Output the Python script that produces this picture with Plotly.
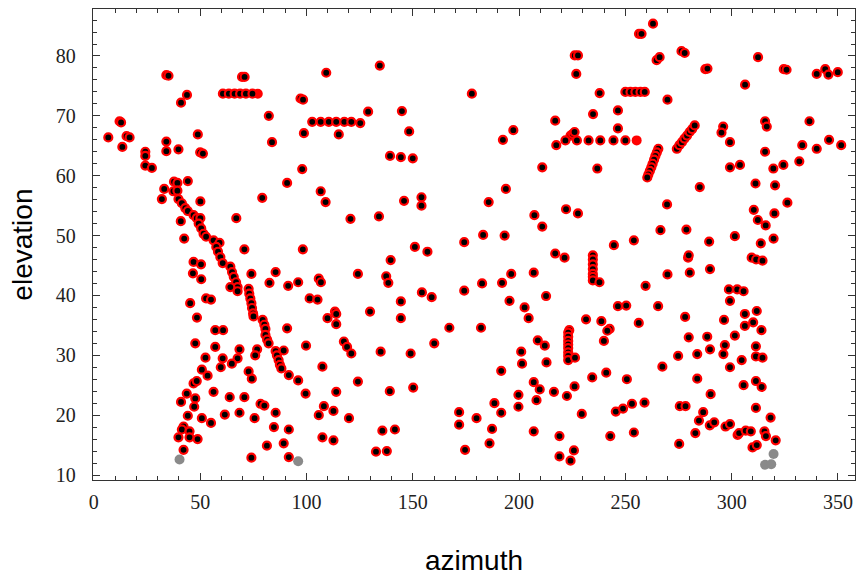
import plotly.graph_objects as go

# Main detections (black core, red halo)
azimuth = [
    6.8, 12.1, 12.8, 13.4, 15.4, 16.8, 24.2, 24.2, 24.2, 27.3, 34.1, 35.1, 34.1, 34.1, 39.8,
    41.0, 43.8, 48.9, 50.0, 51.3, 60.7, 63.5, 66.2, 68.8, 71.5, 74.6, 69.7, 70.9, 82.3, 83.8,
    109.3, 134.5, 97.2, 98.4, 102.7, 106.7, 110.5, 114.0, 117.8, 121.1, 125.3, 129.0, 144.9,
    98.8, 115.2, 148.3, 177.8, 139.3, 144.4, 150.0, 98.0,
    263.0, 256.4, 257.6, 226.2, 227.7, 226.9, 264.7, 266.1, 237.9, 250.0, 252.4, 254.7, 257.1,
    259.1, 269.8, 234.8, 246.5, 217.0, 197.3, 192.4, 246.5, 224.2, 225.3, 226.1, 217.5,
    221.8, 227.2, 232.7, 238.2, 244.4, 250.0,
    265.5, 264.8, 264.1, 263.5, 262.8, 262.2, 261.5, 260.8, 260.3, 210.9, 236.8,
    274.2, 275.4, 276.6, 277.8, 279.0, 280.2, 281.4, 282.6,
    276.4, 277.9, 287.6, 288.6, 312.4, 306.3, 324.5, 325.8, 340.0, 344.0, 345.5, 349.9,
    296.0, 295.2, 299.2, 315.7, 316.5, 315.7, 336.6, 333.2, 340.0, 345.8, 351.5,
    299.2, 303.9, 319.6, 324.3, 331.8,
    37.7, 39.3, 44.2, 33.1, 32.0,
    37.4, 39.3, 39.8, 41.4, 43.0, 44.2, 46.9, 48.4, 50.1, 49.3, 50.5, 51.6, 52.8, 56.3, 59.1,
    57.6, 58.4, 59.5, 60.6, 64.2, 65.0, 65.8, 66.9, 67.6, 67.6, 64.2, 72.8, 73.1, 73.6, 74.1,
    74.4, 74.9, 75.1, 79.4, 80.2, 80.7, 80.7, 81.5, 82.2,
    50.1, 40.9, 42.5, 46.9, 50.4, 46.6, 50.5, 45.3, 52.8, 55.1, 48.5, 67.0, 70.8, 79.2, 74.1,
    85.5, 82.6, 90.9, 91.4, 57.1, 60.8, 90.9,
    106.7, 109.0, 120.7, 134.1, 145.9, 154.1, 154.1, 98.3, 151.0, 156.9, 174.2, 183.1, 139.6,
    124.2, 137.5, 138.5, 96.1, 105.8, 106.8, 154.3, 158.9, 174.2, 182.6, 101.5, 105.2, 144.4,
    113.4, 114.0, 109.9, 114.0, 129.9, 144.4, 167.2, 182.1,
    193.8, 185.7, 207.2, 222.1, 227.7, 210.9, 193.2, 217.0, 221.4, 244.6, 254.0, 266.5, 269.6,
    234.7, 234.7, 234.7, 234.7, 234.7, 234.7, 234.7, 237.8,
    196.3, 206.9, 192.0, 269.8, 259.5, 212.7, 195.5, 202.6, 204.5, 246.5, 250.4, 265.4, 231.5,
    238.7, 256.3, 242.6, 223.6,
    285.0, 311.2, 320.4, 326.2, 310.4, 320.1, 312.3, 316.0, 278.7, 289.4, 301.5, 313.7, 319.7,
    279.5, 279.8, 309.4, 311.5, 314.5, 280.3, 289.8, 298.7, 302.6, 305.6, 299.2, 278.1, 296.4,
    306.2, 311.8, 306.2, 310.1, 314.0,
    47.7, 57.1, 68.5, 76.8, 75.9, 85.5, 89.3, 86.1, 86.9, 87.5, 88.2, 52.5, 60.6, 67.6, 64.9,
    50.8, 59.7, 53.5, 72.8, 74.3, 91.7, 46.9, 48.4, 56.3, 43.7, 47.7, 41.0, 47.2, 63.9, 70.8,
    78.4, 80.2, 44.2, 50.8, 55.1, 61.6, 68.5, 75.6, 85.5, 84.7, 91.7, 42.2, 41.4, 39.8, 45.0,
    45.0, 48.8, 42.2, 89.3, 81.4, 74.1, 91.7,
    99.8, 117.6, 119.1, 121.1, 134.9, 149.0, 160.1, 107.5, 96.1, 124.2, 99.6, 114.0, 139.2,
    150.2, 108.2, 105.8, 112.7, 120.0, 171.8, 171.8, 180.0, 107.5, 112.7, 135.7, 141.6, 132.7,
    137.8, 174.6,
    241.5, 239.9, 208.8, 212.1, 201.0, 201.4, 212.9,
    223.1, 223.1, 223.1, 223.1, 223.1, 223.1, 223.1, 223.1,
    226.3, 274.8, 191.6, 206.9, 209.7, 208.2, 199.7, 199.7, 216.4, 222.5, 226.1, 234.4, 241.0,
    250.7, 267.4, 188.4, 191.6, 229.5, 245.5, 248.9, 253.1, 259.0, 275.6, 187.3, 186.1, 206.9,
    219.0, 242.9, 254.0, 275.3, 219.0, 225.8, 224.2,
    279.8, 288.5, 301.5, 296.8, 311.4, 289.8, 283.8, 296.1, 304.7, 311.4, 314.5, 299.2, 283.8,
    305.6, 311.4, 314.1, 290.1, 278.3, 286.6, 311.4, 318.3, 284.6, 282.9, 289.7, 291.8, 297.1,
    299.2, 302.8, 303.5, 306.6, 309.0, 315.4, 316.1, 320.7, 309.8, 311.8,
]

elevation = [
    66.4, 69.1, 68.9, 64.8, 66.6, 66.4, 64.0, 63.3, 61.7, 61.3, 76.8, 76.7, 65.7, 64.1, 64.4,
    72.2, 73.5, 66.9, 63.9, 63.7, 73.7, 73.7, 73.7, 73.7, 73.7, 73.7, 76.5, 76.5, 70.0, 65.6,
    77.2, 78.4, 72.9, 72.7, 69.0, 69.0, 69.0, 69.0, 69.0, 69.0, 68.8, 70.7, 70.8,
    67.1, 66.9, 67.4, 73.7, 63.3, 63.1, 62.9, 61.1,
    85.4, 83.7, 83.7, 80.1, 80.1, 77.0, 79.3, 79.8, 73.8, 74.0, 74.0, 74.0, 74.0,
    74.0, 72.7, 70.3, 70.9, 69.2, 67.6, 66.0, 67.9, 66.7, 67.0, 67.3, 65.1,
    65.9, 65.9, 65.9, 65.9, 65.9, 65.9,
    64.5, 63.9, 63.3, 62.7, 62.0, 61.4, 60.8, 60.2, 59.7, 61.4, 61.2,
    64.5, 65.1, 65.6, 66.2, 66.7, 67.3, 67.8, 68.4,
    80.8, 80.5, 77.8, 77.9, 79.8, 75.2, 77.8, 77.7, 77.0, 77.8, 76.9, 77.3,
    68.2, 67.2, 65.6, 69.1, 68.2, 64.0, 69.1, 65.1, 64.5, 66.0, 65.1,
    61.4, 61.8, 61.2, 61.8, 62.4,
    59.0, 58.8, 59.1, 57.8, 56.1,
    57.4, 57.5, 56.1, 55.4, 54.6, 54.1, 53.4, 52.9, 52.9, 52.0, 51.2, 50.3, 49.8, 49.2, 48.8,
    48.1, 47.3, 46.4, 45.4, 44.8, 43.9, 43.1, 42.2, 41.4, 40.7, 41.4, 41.1, 40.3, 39.5, 38.7,
    37.9, 37.0, 36.5, 35.9, 35.1, 34.4, 33.4, 32.6, 32.0,
    55.7, 52.4, 49.5, 45.6, 45.2, 43.7, 42.7, 38.7, 39.5, 39.3, 36.3, 52.9, 47.7, 56.3, 43.6,
    43.9, 42.1, 58.8, 41.6, 34.2, 34.2, 34.5,
    57.4, 55.6, 52.8, 53.2, 55.8, 56.4, 55.0, 47.7, 48.1, 47.3, 48.9, 50.1, 45.9,
    43.6, 43.2, 42.1, 42.2, 42.8, 42.2, 40.5, 39.7, 40.8, 42.0, 39.5, 39.3, 39.0,
    37.3, 36.9, 36.2, 35.2, 37.3, 36.2, 34.6, 34.6,
    57.8, 55.6, 53.4, 54.4, 53.7, 51.5, 50.0, 47.0, 46.3, 48.4, 49.2, 50.9, 55.2,
    46.7, 46.0, 45.2, 44.4, 43.6, 43.1, 42.5, 42.2,
    43.6, 43.8, 42.1, 43.5, 41.6, 39.9, 39.1, 38.0, 36.2, 38.2, 38.3, 38.2, 36.0,
    35.7, 35.4, 34.4, 34.2,
    58.1, 58.7, 58.4, 55.5, 54.3, 53.7, 52.6, 51.7, 51.0, 49.0, 49.9, 48.7, 49.5,
    46.3, 46.7, 46.3, 46.0, 45.8, 43.8, 44.4, 41.0, 41.0, 40.7, 39.1, 36.4, 35.9,
    36.9, 37.4, 34.9, 35.5, 34.2,
    32.0, 31.4, 31.0, 31.0, 30.0, 30.7, 30.8, 30.0, 29.2, 28.4, 27.8, 29.6, 29.5, 29.5, 28.6,
    27.6, 28.0, 26.6, 27.3, 26.1, 26.7, 25.3, 25.7, 23.9, 23.6, 22.8, 22.2, 21.4, 23.0, 23.0,
    21.9, 21.6, 19.9, 19.5, 18.7, 20.1, 20.4, 19.5, 20.4, 18.0, 17.6, 18.1, 17.6, 16.3, 17.3,
    16.3, 16.0, 14.2, 15.3, 14.9, 12.9, 13.0,
    31.6, 32.3, 31.4, 30.3, 30.6, 30.3, 32.0, 28.1, 25.8, 25.6, 23.6, 23.9, 24.0,
    24.6, 21.5, 20.0, 20.7, 19.5, 20.5, 18.4, 19.5, 16.3, 15.8, 17.4, 17.6, 13.9,
    14.0, 14.2,
    34.1, 32.4, 32.5, 31.6, 30.6, 28.6, 28.8,
    33.8, 33.1, 32.4, 31.8, 31.2, 30.5, 29.9, 29.2,
    29.6, 29.9, 27.4, 25.5, 24.3, 22.5, 23.4, 21.4, 23.9, 23.2, 24.8, 26.3, 27.1,
    26.0, 28.1, 22.0, 20.4, 20.2, 20.6, 21.1, 21.9, 22.1, 21.5, 17.7, 15.3, 17.3,
    16.5, 16.5, 17.1, 15.2, 13.1, 14.1, 12.4,
    33.0, 33.1, 33.3, 31.7, 31.5, 31.0, 30.2, 30.2, 29.2, 29.8, 29.6, 28.0, 26.1,
    25.0, 25.7, 24.7, 23.5, 21.5, 20.5, 21.2, 19.6, 19.1, 17.0, 18.3, 18.8, 18.1,
    18.5, 16.7, 17.0, 17.4, 17.3, 17.3, 16.5, 15.8, 14.6, 15.0,
]

# Plain red detections
azimuth_red = [77.1, 255.3]
elevation_red = [73.7, 65.9]

# Grey detections near the horizon
azimuth_gray = [40.3, 96.1, 319.7, 315.7, 318.6]
elevation_gray = [12.6, 12.3, 13.5, 11.7, 11.8]

fig = go.Figure()

fig.add_trace(go.Scatter(
    x=azimuth_gray, y=elevation_gray, mode="markers",
    marker=dict(size=10, color="#8a8a8a", line=dict(width=0)),
    hoverinfo="x+y", showlegend=False,
))
fig.add_trace(go.Scatter(
    x=azimuth_red, y=elevation_red, mode="markers",
    marker=dict(size=10, color="#ff0000", line=dict(width=0)),
    hoverinfo="x+y", showlegend=False,
))
fig.add_trace(go.Scatter(
    x=azimuth, y=elevation, mode="markers",
    marker=dict(size=8, color="#000000", line=dict(width=2.2, color="#ff0000")),
    hoverinfo="x+y", showlegend=False,
))

tick_font = dict(family="Liberation Serif", size=20, color="#222222")
frame = dict(
    showline=True, linecolor="#333333", linewidth=1.4, mirror="allticks",
    ticks="inside", ticklen=7, tickwidth=1.2, tickcolor="#333333",
    showgrid=False, zeroline=False, tickfont=tick_font,
)

fig.update_xaxes(
    range=[-0.4, 358.0], tickmode="linear", tick0=0, dtick=50,
    minor=dict(dtick=10, ticklen=4, tickwidth=1, tickcolor="#333333", ticks="inside"),
    ticklabelstandoff=4, **frame,
)
fig.update_yaxes(
    range=[9.165, 87.85], tickmode="linear", tick0=10, dtick=10,
    minor=dict(dtick=2, ticklen=4, tickwidth=1, tickcolor="#333333", ticks="inside"),
    ticklabelstandoff=12, **frame,
)

fig.update_layout(
    width=859, height=577,
    margin=dict(l=93, r=4, t=9, b=97),
    plot_bgcolor="white", paper_bgcolor="white",
    annotations=[
        dict(text="azimuth", xref="paper", yref="paper", x=0.5, y=-0.17,
             xanchor="center", yanchor="middle", showarrow=False,
             font=dict(family="Liberation Sans", size=28, color="#000000")),
        dict(text="elevation", xref="paper", yref="paper", x=-0.093, y=0.5,
             xanchor="center", yanchor="middle", textangle=-90, showarrow=False,
             font=dict(family="Liberation Sans", size=28, color="#000000")),
    ],
)

fig.write_html("out.html")
